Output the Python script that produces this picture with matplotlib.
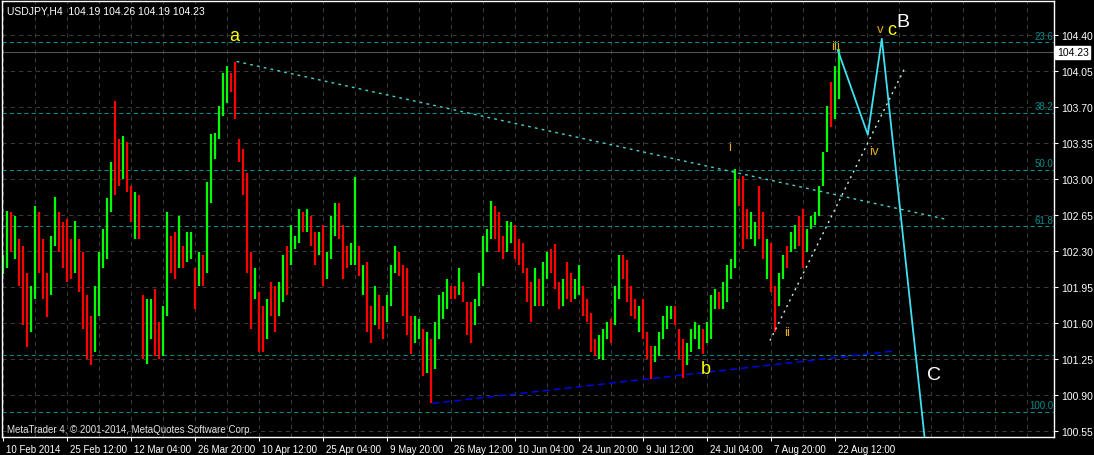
import matplotlib
matplotlib.use("Agg")
import matplotlib.pyplot as plt
import matplotlib.transforms as mtransforms

plt.rcParams['font.family'] = ['Liberation Sans', 'DejaVu Sans']

# H4 bars, one entry per 4 px column
bar_high = [
    102.26, 102.69, 102.68, 102.64, 102.42, 102.35, 102.09, 101.96, 102.74, 102.68,
    102.42, 102.09, 102.45, 102.82, 102.68, 102.58, 102.61, 102.42, 102.59, 102.42,
    102.29, 101.87, 101.67, 101.96, 102.29, 102.51, 102.81, 103.16, 103.76, 103.39,
    103.42, 103.36, 102.93, 102.87, 102.84,
    101.87, 101.83, 101.83, 101.93, 101.61, 101.77, 102.68, 102.45, 102.48, 102.64,
    102.35, 102.48, 102.48, 102.13, 102.29, 102.26, 102.97, 103.44, 103.45, 103.71,
    104.03, 104.10, 104.03, 104.13, 103.39, 103.29, 103.06, 102.29, 102.13, 101.90,
    101.77, 101.83, 102.00, 101.96, 102.00,
    102.26, 102.35, 102.55, 102.45, 102.71, 102.68, 102.71, 102.64, 102.48, 102.48,
    102.55, 102.29, 102.64, 102.77, 102.77, 102.55, 102.35, 102.38, 103.02, 102.35,
    102.16, 102.19, 101.77, 101.96, 101.87, 101.77, 101.87, 102.16, 102.35, 102.29,
    102.16, 102.13, 101.67, 101.67, 101.64,
    101.54, 101.51, 101.45, 101.61, 101.87, 101.90, 102.03, 101.96, 101.96, 102.13,
    102.00, 101.80, 101.80, 101.83, 102.09, 102.45, 102.51, 102.79, 102.74, 102.68,
    102.45, 102.59, 102.58, 102.55, 102.42, 102.38, 102.13, 102.00, 102.13, 102.03,
    102.19, 102.29, 102.32, 102.37, 102.00,
    102.03, 102.19, 102.09, 102.03, 102.16, 101.96, 101.83, 101.70, 101.45, 101.48,
    101.54, 101.61, 101.64, 101.96, 102.26, 102.26, 102.21, 101.96, 101.83, 101.77,
    101.83, 101.51, 101.38, 101.38, 101.51, 101.67, 101.77, 101.77, 101.77, 101.54,
    101.45, 101.41, 101.54, 101.61, 101.58,
    101.54, 101.61, 101.87, 101.93, 101.90, 102.00, 102.16, 102.22, 103.10, 103.00,
    103.03, 102.71, 102.68, 102.58, 102.93, 102.68, 102.42, 102.38, 101.96, 102.09,
    102.26, 102.35, 102.48, 102.55, 102.64, 102.71, 102.51, 102.64, 102.68, 102.93,
    103.26, 103.71, 103.94, 104.10, 104.26,
]
bar_low = [
    102.08, 102.13, 102.29, 102.22, 101.96, 101.58, 101.37, 101.51, 101.83, 102.09,
    101.83, 101.66, 101.87, 102.35, 102.29, 102.13, 102.00, 102.03, 102.09, 101.90,
    101.54, 101.25, 101.19, 101.32, 101.67, 102.13, 102.22, 102.68, 102.84, 102.93,
    103.00, 102.87, 102.58, 102.42, 102.42,
    101.25, 101.20, 101.45, 101.28, 101.25, 101.28, 101.67, 102.09, 102.03, 102.13,
    102.13, 102.19, 102.22, 101.74, 101.96, 101.96, 102.09, 102.77, 103.19, 103.39,
    103.61, 103.74, 103.84, 103.58, 103.16, 102.84, 102.09, 101.54, 101.83, 101.32,
    101.32, 101.45, 101.67, 101.51, 101.67,
    101.80, 101.87, 102.16, 102.32, 102.38, 102.48, 102.48, 102.35, 102.16, 102.26,
    101.96, 102.03, 102.22, 102.45, 102.42, 102.03, 102.13, 102.16, 102.16, 102.06,
    101.87, 101.51, 101.41, 101.58, 101.54, 101.45, 101.61, 101.77, 102.09, 102.06,
    101.67, 101.48, 101.30, 101.41, 101.45,
    101.09, 101.12, 100.82, 101.15, 101.45, 101.64, 101.74, 101.83, 101.83, 101.87,
    101.80, 101.48, 101.41, 101.58, 101.77, 101.96, 102.29, 102.42, 102.42, 102.29,
    102.22, 102.29, 102.38, 102.22, 102.16, 102.09, 101.80, 101.61, 101.77, 101.77,
    101.77, 102.03, 102.09, 101.93, 101.74,
    101.77, 101.83, 101.80, 101.83, 101.87, 101.67, 101.61, 101.32, 101.28, 101.25,
    101.24, 101.45, 101.41, 101.58, 101.83, 102.03, 101.80, 101.67, 101.64, 101.51,
    101.45, 101.25, 101.06, 101.22, 101.28, 101.45, 101.54, 101.64, 101.58, 101.25,
    101.07, 101.19, 101.32, 101.45, 101.35,
    101.30, 101.41, 101.45, 101.74, 101.74, 101.74, 101.80, 102.03, 102.13, 102.74,
    102.32, 102.42, 102.42, 102.35, 102.42, 102.22, 102.03, 101.90, 101.51, 101.77,
    102.03, 102.13, 102.29, 102.32, 102.35, 102.13, 102.29, 102.51, 102.55, 102.64,
    102.93, 103.26, 103.50, 103.58, 103.78,
]
# g = up bar, r = down bar
bar_dir = ("ggrgrrrggr" "rrggrrrrgr" "rrrgggggrr" "grrgr"
           "rggrrggrrg" "rggrgrgggg" "ggrrrrrrgr" "rgrrg"
           "grgggrgrrg" "rgggrrrggr" "grrgrrgggr" "rrrgg"
           "rgrggggrrg" "rrrgggggrr" "rggrrrrrgr" "ggrrr"
           "grrggrrrrg" "ggrggrrrrg" "rrrgggggrr" "rgggg"
           "rgggrggggr" "rrggrrgrrg" "grggrrgggg" "ggrgg")

date_labels = ["10 Feb 2014", "25 Feb 12:00", "12 Mar 04:00", "26 Mar 20:00",
               "10 Apr 12:00", "25 Apr 04:00", "9 May 20:00", "26 May 12:00",
               "10 Jun 04:00", "24 Jun 20:00", "9 Jul 12:00", "24 Jul 04:00",
               "7 Aug 20:00", "22 Aug 12:00"]
price_ticks = [104.40, 104.05, 103.70, 103.35, 103.00, 102.65, 102.30,
               101.95, 101.60, 101.25, 100.90, 100.55]
fib_levels = [104.325, 103.64, 103.09, 102.54, 100.74]
fib_names = ["23.6", "38.2", "50.0", "61.8", "100.0"]
extra_level = 101.29
last_price = 104.23

# drawn objects: (bar index, price)
upper_trend_x, upper_trend_y = [58.4, 235.5], [104.14, 102.61]
lower_trend_x, lower_trend_y = [107.3, 223.0], [100.82, 101.33]
wave_line_x, wave_line_y = [191.75, 225.25], [101.43, 104.06]
proj_x = [208.7, 216.2, 219.7, 230.5]
proj_y = [104.25, 103.43, 104.36, 100.45]

YEL = '#FFFF00'
GLD = '#E0A820'
wave_labels = [("a", 57.75, 104.35, YEL, 13), ("b", 175.75, 101.115, YEL, 13),
               ("B", 225.0, 104.485, 'white', 14), ("C", 232.75, 101.057, 'white', 14),
               ("c", 222.1, 104.407, YEL, 13), ("v", 219.4, 104.426, GLD, 9.5),
               ("i", 181.75, 103.28, GLD, 9.5), ("ii", 196.0, 101.48, GLD, 9.5),
               ("iii", 208.1, 104.26, GLD, 9.5), ("iv", 217.8, 103.24, GLD, 9.5)]

FIB = '#008C8C'
W, H = 1094, 456
fig = plt.figure(figsize=(W / 100, H / 100), dpi=100, facecolor='black')
ax = fig.add_axes([2 / W, 18 / H, 1052 / W, 436 / H], facecolor='black')
ax.set_xlim(-0.25, 262.75)
ax.set_ylim(100.494, 104.727)

# grid
for k in range(0, 33):
    ax.axvline(8 * k, color='#3a3a3a', lw=0.75, ls=(0, (4, 4)), zorder=0)
for p in price_ticks:
    ax.axhline(p, color='#3a3a3a', lw=0.75, ls=(0, (4, 4)), zorder=0)

# fibo levels
for lev, name in zip(fib_levels, fib_names):
    ax.axhline(lev, color=FIB, lw=0.75, ls=(0, (4, 3)), zorder=1)
    ax.text(262.5, lev + 0.015, name, ha='right', va='bottom',
            color=FIB, fontsize=7)
ax.axhline(extra_level, color=FIB, lw=0.75, ls=(0, (4, 3)), zorder=1)
ax.axhline(last_price, color='#555555', lw=0.75, zorder=1)

# bars
idx = list(range(len(bar_high)))
cols = ['#00FF00' if c == 'g' else '#FF0000' for c in bar_dir]
ax.vlines(idx, bar_low, bar_high, colors=cols, linewidth=1.6, zorder=2)

# trend lines / projection
ax.plot(upper_trend_x, upper_trend_y, color='#48D1CC', lw=1, ls=(0, (2, 3)), zorder=3)
ax.plot(lower_trend_x, lower_trend_y, color='#0000FF', lw=1, ls=(0, (5, 3)), zorder=3)
ax.plot(wave_line_x, wave_line_y, color='#c8f0f0', lw=1, ls=(0, (1.5, 3)), zorder=3)
ax.plot(proj_x, proj_y, color='#40E0F0', lw=1.3, zorder=3)

for txt, x, y, c, s in wave_labels:
    ax.text(x, y, txt, color=c, fontsize=s, ha='center', va='baseline', zorder=4)

# axes look
for sp in ax.spines.values():
    sp.set_color('white')
    sp.set_linewidth(1)
ax.yaxis.tick_right()
ax.set_yticks(price_ticks)
ax.set_yticklabels(["%.2f" % p for p in price_ticks])
ax.set_xticks([16 * k for k in range(len(date_labels))])
ax.set_xticklabels(date_labels)
ax.tick_params(colors='white', length=3, width=0.75, pad=2)
ax.tick_params(axis='y', labelsize=7.5)
ax.tick_params(axis='x', labelsize=7)
off = mtransforms.ScaledTranslation(3 / 100, 0, fig.dpi_scale_trans)
for lab in ax.get_xticklabels():
    lab.set_ha('left')
    lab.set_transform(lab.get_transform() + off)

trans = mtransforms.blended_transform_factory(ax.transAxes, ax.transData)
ax.text(1.0029, last_price, "%.2f" % last_price, transform=trans, color='black',
        fontsize=7.5, va='center', ha='left', clip_on=False,
        bbox=dict(boxstyle='square,pad=0.15', fc='white', ec='white'))

ax.text(0.0048, 0.979, "USDJPY,H4  104.19 104.26 104.19 104.23", transform=ax.transAxes,
        color='white', fontsize=7.5, va='center', ha='left')
ax.text(0.0048, 0.018, "MetaTrader 4, \u00a9 2001-2014, MetaQuotes Software Corp.",
        transform=ax.transAxes, color='#e0e0e0', fontsize=7, va='center', ha='left')

fig.savefig("out.png", dpi=100, facecolor='black')
